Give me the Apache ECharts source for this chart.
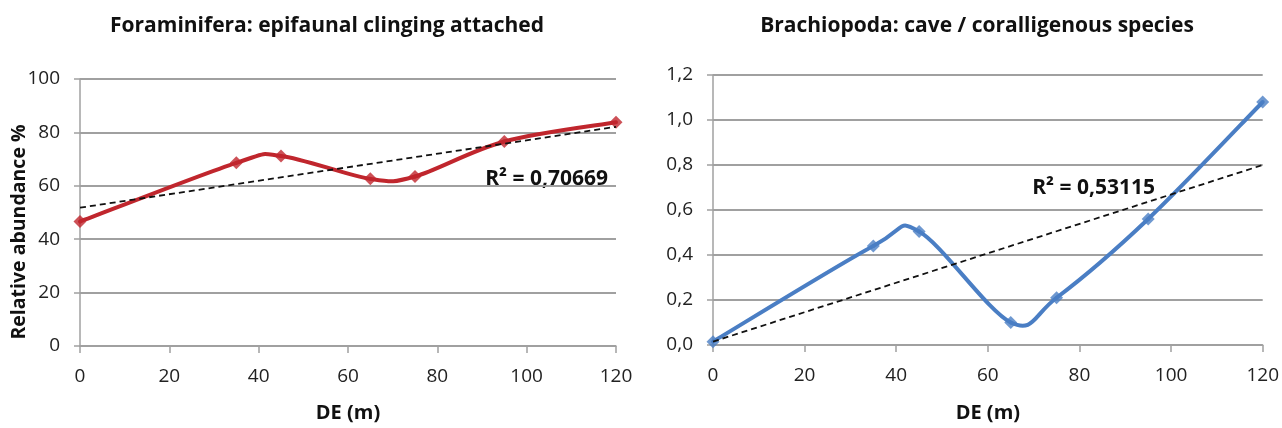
<!DOCTYPE html>
<html><head><meta charset="utf-8">
<script src="https://cdn.jsdelivr.net/npm/echarts@6/dist/echarts.min.js"></script>
<style>html,body{margin:0;padding:0;background:#fff}#c{width:1282px;height:428px}</style>
</head><body><div id="c"></div>
<script>
var depth = [0, 35, 45, 65, 75, 95, 120];
var foramValues = [46.6, 68.6, 71.2, 62.6, 63.5, 76.6, 83.8];
var brachValues = [0.015, 0.44, 0.504, 0.10, 0.21, 0.56, 1.08];
var trendX = [0, 120];
var foramTrend = [51.8, 82.1];
var brachTrend = [0.015, 0.80];
var foramTitle = 'Foraminifera: epifaunal clinging attached';
var brachTitle = 'Brachiopoda: cave / coralligenous species';
var foramYName = 'Relative abundance %';
var xName = 'DE (m)';
var foramR2 = 'R² = 0,70669';
var brachR2 = 'R² = 0,53115';

function pairs(xs, ys){ return xs.map(function(x,i){return [x, ys[i]];}); }

var FONT = '"Open Sans", "Liberation Sans", sans-serif';
var GRAY = '#a0a0a0';
var chart = echarts.init(document.getElementById('c'));
var axisLabel = {color:'#222', fontSize:19, fontFamily:FONT};
function xAxis(idx){
  return {type:'value', gridIndex:idx, min:0, max:120, interval:20,
    name:xName, nameLocation:'middle', nameGap:idx===0?57:58,
    nameTextStyle:{fontWeight:'bold', fontSize:20, color:'#111', fontFamily:FONT},
    axisLine:{lineStyle:{color:GRAY, width:1.5}},
    axisTick:{show:true, length:7, lineStyle:{color:GRAY, width:1.5}},
    splitLine:{show:false},
    axisLabel:Object.assign({margin:21}, axisLabel)};
}
function yAxis(idx, max, interval, fmt){
  return {type:'value', gridIndex:idx, min:0, max:max, interval:interval,
    axisLine:{show:true, lineStyle:{color:GRAY, width:1.5}},
    axisTick:{show:true, length:6, lineStyle:{color:GRAY, width:1.5}},
    splitLine:{lineStyle:{color:GRAY, width:1.8}},
    axisLabel:Object.assign({margin:20, formatter:fmt}, axisLabel)};
}
// Smoothed line (Excel-style Catmull-Rom Bezier) drawn through the axis scales
function curveSeries(xi, xs, ys, color){
  return {type:'custom', xAxisIndex:xi, yAxisIndex:xi, data:pairs(xs, ys), z:2, silent:true,
    renderItem:function(params, api){
      var i = params.dataIndex, n = xs.length;
      if (i >= n - 1) return {type:'group', children:[]};
      var P = function(j){ j = Math.max(0, Math.min(n-1, j)); return api.coord([xs[j], ys[j]]); };
      var p0 = P(i-1), p1 = P(i), p2 = P(i+1), p3 = P(i+2);
      return {type:'bezierCurve',
        shape:{x1:p1[0], y1:p1[1], x2:p2[0], y2:p2[1],
          cpx1:p1[0] + (p2[0]-p0[0])/6, cpy1:p1[1] + (p2[1]-p0[1])/6,
          cpx2:p2[0] - (p3[0]-p1[0])/6, cpy2:p2[1] - (p3[1]-p1[1])/6},
        style:{stroke:color, lineWidth:4, fill:'none', lineCap:'round'}};
    }};
}
function markerSeries(xi, xs, ys, color){
  return {type:'scatter', xAxisIndex:xi, yAxisIndex:xi, data:pairs(xs, ys), z:3,
    symbol:'diamond', symbolSize:13, itemStyle:{color:color}};
}
var trendSeries = function(xi, data){
  return {type:'line', xAxisIndex:xi, yAxisIndex:xi, data:data, symbol:'none',
    lineStyle:{color:'#111', width:1.8, type:[6,4]}, z:4};
};
chart.setOption({
  animation:false,
  title:[
    {text:foramTitle, left:322, top:11, textAlign:'center', textStyle:{fontSize:21, fontWeight:'bold', color:'#111', fontFamily:FONT}},
    {text:brachTitle, left:972, top:11, textAlign:'center', textStyle:{fontSize:21, fontWeight:'bold', color:'#111', fontFamily:FONT}}
  ],
  grid:[
    {left:80, right:666, top:79, bottom:77},
    {left:713, right:19, top:75, bottom:78}
  ],
  xAxis:[xAxis(0), xAxis(1)],
  yAxis:[
    yAxis(0, 100, 20, function(v){return String(v);}),
    yAxis(1, 1.2, 0.2, function(v){return v.toFixed(1).replace('.', ',');})
  ],
  series:[
    trendSeries(0, pairs(trendX, foramTrend)),
    curveSeries(0, depth, foramValues, '#c0262d'),
    markerSeries(0, depth, foramValues, '#c0262d'),
    trendSeries(1, pairs(trendX, brachTrend)),
    curveSeries(1, depth, brachValues, '#4a7ec4'),
    markerSeries(1, depth, brachValues, '#4a7ec4')
  ],
  graphic:[
    {type:'text', x:19, y:232, rotation:Math.PI/2,
      style:{text:foramYName, fontSize:19.5, fontWeight:'bold', fill:'#111', fontFamily:FONT, textAlign:'center', textVerticalAlign:'middle'}},
    {type:'text', x:608, y:179, style:{text:foramR2, fontSize:21, fontWeight:'bold', fill:'#111', fontFamily:FONT, textAlign:'right', textVerticalAlign:'middle'}},
    {type:'text', x:1155, y:188, style:{text:brachR2, fontSize:21, fontWeight:'bold', fill:'#111', fontFamily:FONT, textAlign:'right', textVerticalAlign:'middle'}}
  ]
});
</script></body></html>
